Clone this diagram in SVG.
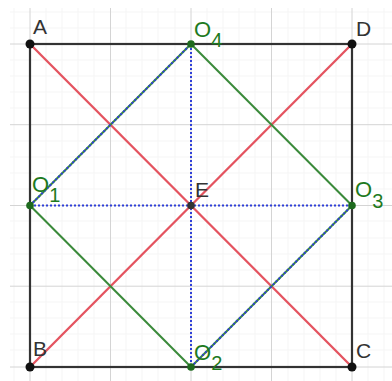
<svg xmlns="http://www.w3.org/2000/svg" width="392" height="381" viewBox="0 0 392 381">
<style>
.minor{stroke:#f5f5f5;stroke-width:1}
.major{stroke:#d4d4d4;stroke-width:1}
.sq{stroke:#333;stroke-width:2.2;fill:none}
.red{stroke:#e4535f;stroke-width:2.3}
.green{stroke:#3a8a3a;stroke-width:2}
.blue{stroke:#2f3fd8;stroke-width:2;stroke-dasharray:2 2}
.lbl{font-family:"Liberation Sans",Arial,sans-serif;font-size:21px;fill:#333}
.glbl{font-family:"Liberation Sans",Arial,sans-serif;font-size:22px;fill:#1e7a1e}
.sub{font-size:20px}
</style>
<rect width="392" height="381" fill="#fff"/>
<g id="grid">
<g class="minor">
<path d="M14 8V381M46 8V381M62 8V381M78 8V381M94 8V381M126 8V381M142 8V381M158 8V381M175 8V381M207 8V381M223 8V381M239 8V381M255 8V381M288 8V381M304 8V381M320 8V381M336 8V381M368 8V381M384 8V381"/>
<path d="M10 12H392M10 28H392M10 60H392M10 76H392M10 92H392M10 108H392M10 141H392M10 157H392M10 173H392M10 189H392M10 221H392M10 238H392M10 254H392M10 270H392M10 302H392M10 318H392M10 334H392M10 350H392"/>
</g>
<g class="major">
<path d="M30 8V381M110.5 8V381M191 8V381M271.5 8V381M352 8V381"/>
<path d="M10 44H392M10 124.7H392M10 205.5H392M10 286.2H392M10 367H392"/>
</g>
</g>
<g id="connectors">
<rect class="sq" x="30" y="44" width="322" height="323"/>
<line class="red" x1="30" y1="44" x2="352" y2="367"/>
<line class="red" x1="30" y1="367" x2="352" y2="44"/>
<line class="green" x1="191" y1="44" x2="352" y2="205.5"/>
<line class="green" x1="30" y1="205.5" x2="191" y2="367"/>
<line class="green" x1="30" y1="205.5" x2="191" y2="44"/>
<line class="green" x1="191" y1="367" x2="352" y2="205.5"/>
<line class="blue" x1="30" y1="205.5" x2="191" y2="44"/>
<line class="blue" x1="191" y1="367" x2="352" y2="205.5"/>
<line class="blue" x1="191" y1="44" x2="191" y2="367"/>
<line class="blue" x1="30" y1="205.5" x2="352" y2="205.5"/>
</g>
<g id="A"><circle cx="30" cy="44" r="4.5" fill="#111"/><text class="lbl" x="33" y="34">A</text></g>
<g id="D"><circle cx="352" cy="44" r="4.5" fill="#111"/><text class="lbl" x="356" y="36">D</text></g>
<g id="B"><circle cx="30" cy="367" r="4.5" fill="#111"/><text class="lbl" x="33" y="356">B</text></g>
<g id="C"><circle cx="352" cy="367" r="4.5" fill="#111"/><text class="lbl" x="356" y="358">C</text></g>
<g id="E"><circle cx="191" cy="205.5" r="3.8" fill="#333"/><text class="lbl" x="195" y="197">E</text></g>
<g id="O4"><circle cx="191" cy="44" r="3.8" fill="#1e6a1e"/><text class="glbl" x="194" y="37">O<tspan class="sub" dy="10">4</tspan></text></g>
<g id="O1"><circle cx="30" cy="205.5" r="3.8" fill="#1e6a1e"/><text class="glbl" x="32" y="192">O<tspan class="sub" dy="10">1</tspan></text></g>
<g id="O3"><circle cx="352" cy="205.5" r="3.8" fill="#1e6a1e"/><text class="glbl" x="355" y="197">O<tspan class="sub" dy="11">3</tspan></text></g>
<g id="O2"><circle cx="191" cy="367" r="3.8" fill="#1e6a1e"/><text class="glbl" x="194" y="360">O<tspan class="sub" dy="10">2</tspan></text></g>
</svg>
